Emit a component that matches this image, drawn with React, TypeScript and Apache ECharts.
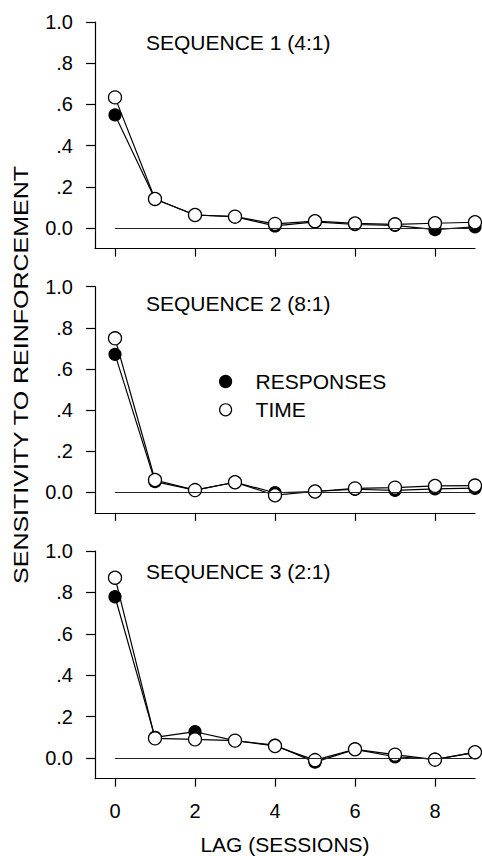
import React, { useEffect, useRef } from "react";
import * as echarts from "echarts";

const lags = [0, 1, 2, 3, 4, 5, 6, 7, 8, 9];
const panelTitles = ["SEQUENCE 1 (4:1)", "SEQUENCE 2 (8:1)", "SEQUENCE 3 (2:1)"];
const seq1Responses = [0.549, 0.141, 0.063, 0.055, 0.01, 0.03, 0.017, 0.013, -0.008, 0.006];
const seq1Time = [0.634, 0.141, 0.063, 0.055, 0.02, 0.033, 0.022, 0.018, 0.023, 0.028];
const seq2Responses = [0.671, 0.052, 0.011, 0.049, -0.002, 0.004, 0.015, 0.01, 0.017, 0.02];
const seq2Time = [0.749, 0.06, 0.011, 0.049, -0.014, 0.004, 0.019, 0.023, 0.031, 0.033];
const seq3Responses = [0.779, 0.1, 0.127, 0.084, 0.062, -0.02, 0.042, 0.006, -0.006, 0.026];
const seq3Time = [0.871, 0.095, 0.09, 0.084, 0.058, -0.01, 0.042, 0.016, -0.008, 0.028];
const yTicks = [0, 0.2, 0.4, 0.6, 0.8, 1.0];
const xTicks = [0, 2, 4, 6, 8];
const seriesNames = ["RESPONSES", "TIME"];

const FONT = "Liberation Sans, Arial, sans-serif";

export default function App() {
  const ref = useRef<HTMLDivElement>(null);
  useEffect(() => {
    if (!ref.current) return;
    const chart = echarts.init(ref.current, undefined, { renderer: "svg" });
    const resp = [seq1Responses, seq2Responses, seq3Responses];
    const time = [seq1Time, seq2Time, seq3Time];
    const gridTops = [22, 286.7, 551];
    const gridHeights = [226.6, 226.2, 227.7];
    const titleTops = [32, 292.8, 561];

    const grids = gridTops.map((t, i) => ({ left: 95, top: t, width: 380, height: gridHeights[i] }));
    const xAxes = gridTops.map((_, i) => ({
      type: "value",
      gridIndex: i,
      min: -0.5,
      max: 9,
      splitLine: { show: false },
      axisLine: { show: true, onZero: false, lineStyle: { color: "#000", width: 1.2 } },
      axisTick: { show: true, customValues: xTicks, length: 8, lineStyle: { color: "#000", width: 1.2 } },
      axisLabel: {
        show: i === 2,
        customValues: xTicks,
        margin: 22,
        color: "#000",
        fontSize: 20,
        fontFamily: FONT,
      },
      name: i === 2 ? "LAG (SESSIONS)" : "",
      nameLocation: "middle",
      nameGap: 55,
      nameTextStyle: { color: "#000", fontSize: 21, fontFamily: FONT },
    }));
    const yAxes = gridTops.map((_, i) => ({
      type: "value",
      gridIndex: i,
      min: -0.1,
      max: 1.0,
      splitLine: { show: false },
      axisLine: { show: true, onZero: false, lineStyle: { color: "#000", width: 1.2 } },
      axisTick: { show: true, customValues: yTicks, length: 9, lineStyle: { color: "#000", width: 1.2 } },
      axisLabel: {
        customValues: yTicks,
        margin: 22,
        color: "#000",
        fontSize: 20,
        fontFamily: FONT,
        formatter: (v: number) =>
          Math.abs(v) < 1e-9 ? "0.0" : Math.abs(v - 1) < 1e-9 ? "1.0" : "." + Math.round(v * 10),
      },
    }));

    const series: any[] = [];
    for (let i = 0; i < 3; i++) {
      series.push({
        type: "line",
        name: seriesNames[0],
        xAxisIndex: i,
        yAxisIndex: i,
        data: lags.map((x, k) => [x, resp[i][k]]),
        symbol: "circle",
        symbolSize: 12,
        lineStyle: { color: "#000", width: 1.2 },
        itemStyle: { color: "#000", borderColor: "#000", borderWidth: 1.2 },
        z: 3,
        markLine: {
          silent: true,
          symbol: "none",
          label: { show: false },
          lineStyle: { color: "#222", width: 1.2, type: "solid" },
          data: [[{ coord: [0, 0] }, { coord: [9, 0] }]],
        },
      });
      series.push({
        type: "line",
        name: seriesNames[1],
        xAxisIndex: i,
        yAxisIndex: i,
        data: lags.map((x, k) => [x, time[i][k]]),
        symbol: "circle",
        symbolSize: 13,
        lineStyle: { color: "#000", width: 1.2 },
        itemStyle: { color: "#fff", borderColor: "#000", borderWidth: 1.3 },
        z: 4,
      });
    }

    chart.setOption({
      animation: false,
      backgroundColor: "#fff",
      grid: grids,
      xAxis: xAxes,
      yAxis: yAxes,
      title: panelTitles.map((t, i) => ({
        text: t,
        left: 146,
        top: titleTops[i],
        padding: 0,
        textStyle: { color: "#000", fontSize: 21, fontWeight: "normal", fontFamily: FONT, lineHeight: 21 },
      })),
      legend: {
        orient: "vertical",
        left: 219,
        top: 371,
        padding: 0,
        itemWidth: 12,
        itemHeight: 12,
        itemGap: 7.3,
        selectedMode: false,
        data: [
          { name: seriesNames[0], icon: "circle", itemStyle: { color: "#000", borderColor: "#000", borderWidth: 1.2 } },
          { name: seriesNames[1], icon: "circle", itemStyle: { color: "#fff", borderColor: "#000", borderWidth: 1.2 } },
        ],
        textStyle: { color: "#000", fontSize: 21, fontFamily: FONT, lineHeight: 21, padding: [0, 0, 0, 19] },
      },
      graphic: [
        {
          type: "text",
          x: 21,
          y: 375,
          rotation: Math.PI / 2,
          scaleX: 1.19,
          style: {
            text: "SENSITIVITY TO REINFORCEMENT",
            fontSize: 21,
            fontFamily: FONT,
            fill: "#000",
            textAlign: "center",
            textVerticalAlign: "middle",
          },
        },
      ],
      series,
    });
    return () => chart.dispose();
  }, []);
  return (
    <div
      ref={ref}
      style={{ position: "absolute", left: 0, top: 0, width: 482, height: 856, background: "#fff" }}
    />
  );
}
